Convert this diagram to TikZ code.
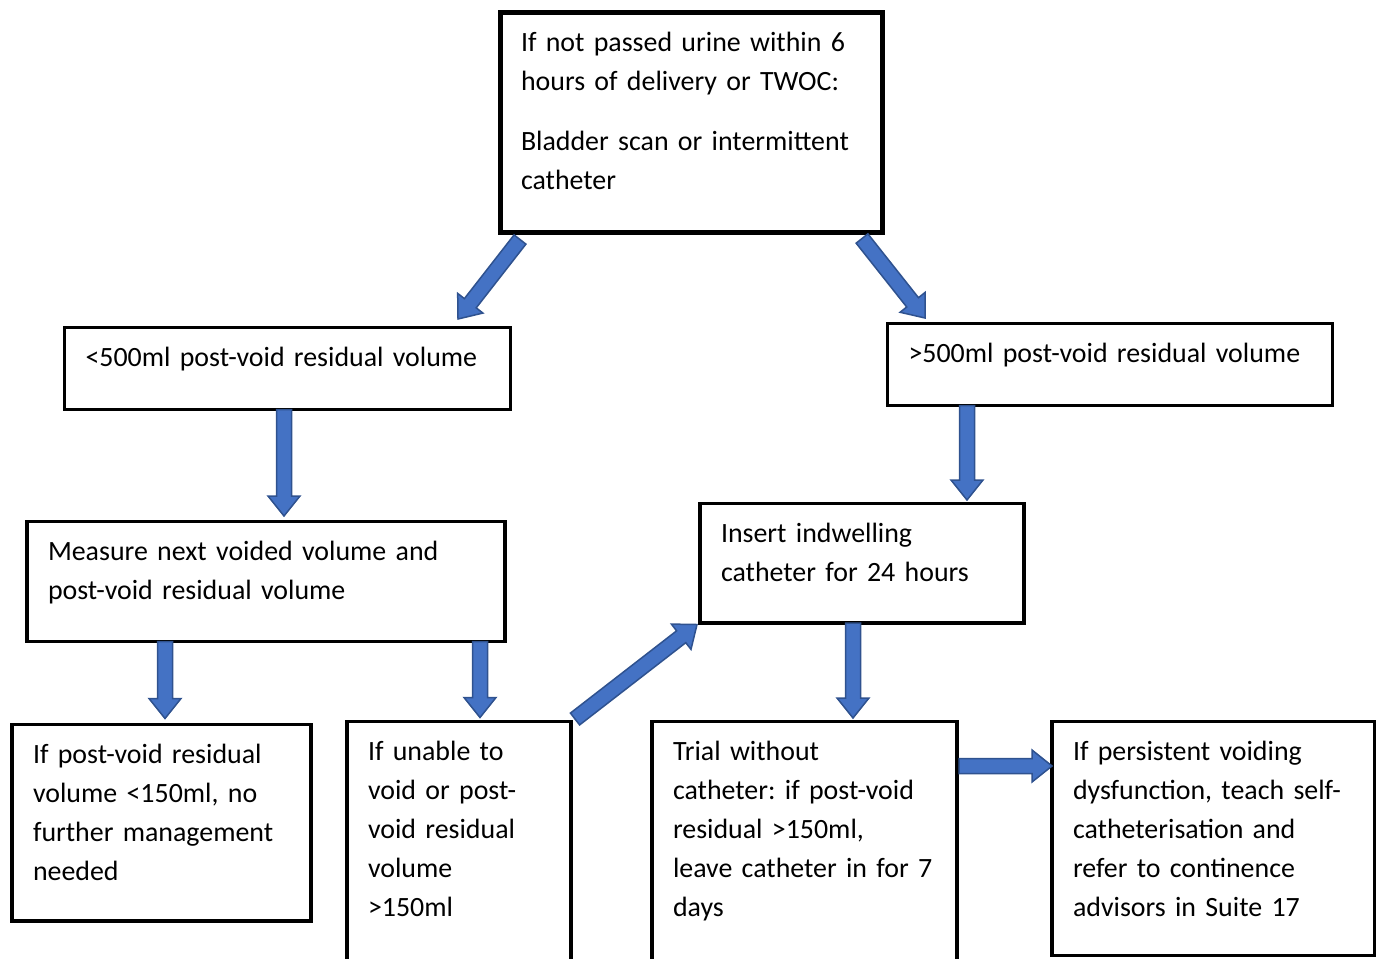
\documentclass[tikz,border=0pt]{standalone}
\usepackage{fontspec}
\setmainfont{Carlito}
\usetikzlibrary{calc}
\definecolor{arrowBlue}{HTML}{4472C4}
\definecolor{arrowEdge}{HTML}{2F528F}
\newcommand{\boxfont}{\fontsize{27.9bp}{39bp}\selectfont\frenchspacing\hyphenpenalty=10000\relax}

% block arrow from #1 to #2
\newcommand{\blockarrow}[2]{%
  \path (#1) coordinate (ba-s) (#2) coordinate (ba-e)
    ($(ba-e)!20bp!(ba-s)$) coordinate (ba-h);
  \filldraw[blockArrow]
    ($(ba-s)!7.5bp!90:(ba-e)$) -- ($(ba-h)!7.5bp!-90:(ba-s)$)
    -- ($(ba-h)!16bp!-90:(ba-s)$) -- (ba-e)
    -- ($(ba-h)!16bp!90:(ba-s)$) -- ($(ba-h)!7.5bp!90:(ba-s)$)
    -- ($(ba-s)!7.5bp!-90:(ba-e)$) -- cycle;}

\begin{document}
\begin{tikzpicture}[x=1bp,y=-1bp,
  flowBox/.style={draw,line width=3.5bp,anchor=north west,align=left,
    inner xsep=21bp,inner ysep=0pt,outer sep=0pt,text height=39bp,
    font=\boxfont},
  blockArrow/.style={fill=arrowBlue,draw=arrowEdge,line width=1.5bp,line join=miter}]
  \clip (0,0) rectangle (1376,958);
  \node[flowBox,line width=5bp,text width=340bp,text depth=181bp] (trigger) at (500,12.5)
    {If not passed urine within 6\\hours of delivery or TWOC:\\[21bp]Bladder scan or intermittent\\catheter};
  \node[flowBox,text width=404bp,text depth=43bp] (lowPvr) at (64.5,327.5)
    {<500ml post-void residual volume};
  \node[flowBox,text width=403bp,text depth=43bp] (highPvr) at (887.5,323.5)
    {>500ml post-void residual volume};
  \node[flowBox,text width=436bp,text depth=81bp] (measure) at (27,521.5)
    {Measure next voided volume and\\post-void residual volume};
  \node[flowBox,text width=282bp,text depth=80.5bp] (indwell) at (700,503.5)
    {Insert indwelling\\catheter for 24 hours};
  \node[flowBox,text width=257bp,text depth=157.5bp] (noAction) at (12,724.5)
    {If post-void residual\\volume <150ml, no\\further management\\needed};
  \node[flowBox,text width=182bp,text depth=221bp] (unable) at (347,721.5)
    {If unable to\\void or post-\\void residual\\volume\\>150ml};
  \node[flowBox,text width=263bp,text depth=221bp] (twoc) at (652,721.5)
    {Trial without\\catheter: if post-void\\residual >150ml,\\leave catheter in for 7\\days};
  \node[flowBox,text width=281bp,text depth=195bp] (refer) at (1052,721.5)
    {If persistent voiding\\dysfunction, teach self-\\catheterisation and\\refer to continence\\advisors in Suite 17};

  \blockarrow{$(trigger.south west)+(20,7)$}{$(lowPvr.north west)+(393.5,-8.5)$}
  \blockarrow{$(trigger.south east)+(-20,6)$}{$(highPvr.north west)+(37.5,-5.5)$}
  \blockarrow{$(lowPvr.south west)+(219.5,0)$}{$(measure.north west)+(257,-5.5)$}
  \blockarrow{$(highPvr.south west)+(79.5,0)$}{$(indwell.north west)+(267,-3.5)$}
  \blockarrow{$(measure.south west)+(138,0)$}{$(noAction.north west)+(153,-6)$}
  \blockarrow{$(measure.south west)+(453,0)$}{$(unable.north west)+(133,-4)$}
  \blockarrow{$(unable.north east)+(4,-2.5)$}{$(indwell.south west)+(-3,1.5)$}
  \blockarrow{$(indwell.south west)+(153,0)$}{$(twoc.north west)+(201,-3.5)$}
  \blockarrow{$(twoc.north east)+(2,44.5)$}{$(refer.north west)+(0,44.5)$}
\end{tikzpicture}
\end{document}
